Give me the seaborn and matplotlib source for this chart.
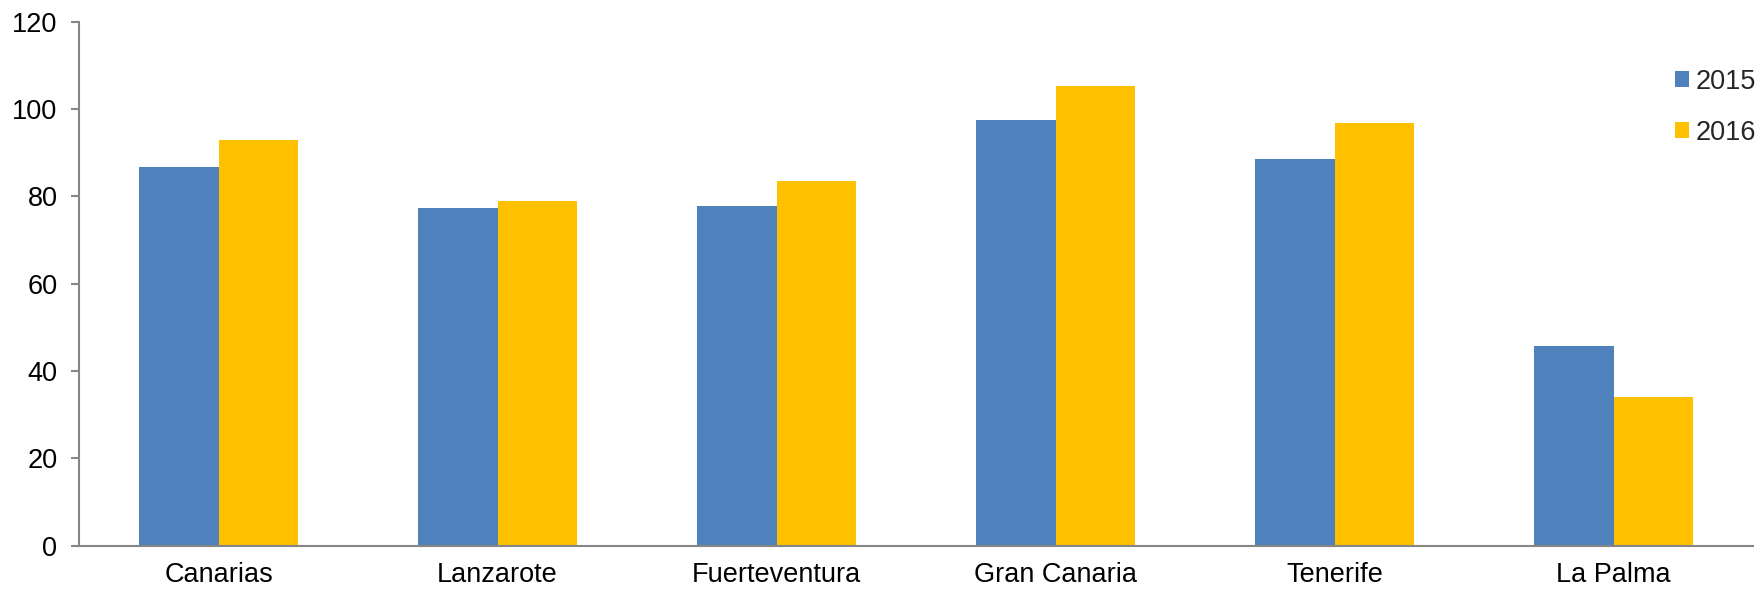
import pandas as pd
import matplotlib
matplotlib.use("Agg")
import matplotlib.pyplot as plt
import seaborn as sns
from matplotlib.patches import Patch

# =========================
# Data
# =========================
islas = ["Canarias", "Lanzarote", "Fuerteventura", "Gran Canaria", "Tenerife", "La Palma"]
valores_2015 = [86.6, 77.2, 77.8, 97.5, 88.5, 45.8]
valores_2016 = [92.9, 78.9, 83.4, 105.2, 96.8, 34.0]
años = ["2015", "2016"]
colores = ["#4F81BD", "#FFC000"]

df = pd.DataFrame({
    "isla": islas * 2,
    "valor": valores_2015 + valores_2016,
    "año": ["2015"] * len(islas) + ["2016"] * len(islas),
})

# =========================
# Plot
# =========================
sns.set_style("white")
plt.rcParams["font.family"] = ["Liberation Sans", "DejaVu Sans"]

fig = plt.figure(figsize=(17.57, 5.9), dpi=100)
ax = fig.add_axes([79 / 1757, 1 - 545.7 / 590, (1753 - 79) / 1757, (545.7 - 21.5) / 590])

sns.barplot(
    data=df, x="isla", y="valor", hue="año", hue_order=años,
    palette=colores, width=0.573, gap=0, saturation=1,
    edgecolor="none", linewidth=0, legend=False, ax=ax
)

ax.set_xlim(-0.5, len(islas) - 0.5)
ax.set_ylim(0, 120)
ax.set_yticks(range(0, 121, 20))
ax.set_xlabel("")
ax.set_ylabel("")

for s in ["top", "right"]:
    ax.spines[s].set_visible(False)
for s in ["left", "bottom"]:
    ax.spines[s].set_color("#868686")
    ax.spines[s].set_linewidth(1.5)

ax.set_xticks([i - 0.5 for i in range(len(islas) + 1)], minor=True)
ax.tick_params(axis="x", which="major", length=0, pad=12, labelsize=19.5, labelcolor="black")
ax.tick_params(axis="x", which="minor", length=6, width=1.5, color="#868686", direction="out")
ax.tick_params(axis="y", length=6, width=1.5, color="#868686", direction="out", pad=9.5,
               labelsize=19.5, labelcolor="black", left=True)

handles = [Patch(facecolor=c, edgecolor="none") for c in colores]
fig.legend(
    handles, años, loc="upper left", bbox_to_anchor=(1675 / 1757, 1 - 69 / 590),
    frameon=False, fontsize=19.5, handlelength=0.53, handleheight=0.53,
    handletextpad=0.22, labelspacing=0.92, borderpad=0, borderaxespad=0
)

plt.savefig("out.png", dpi=100)
